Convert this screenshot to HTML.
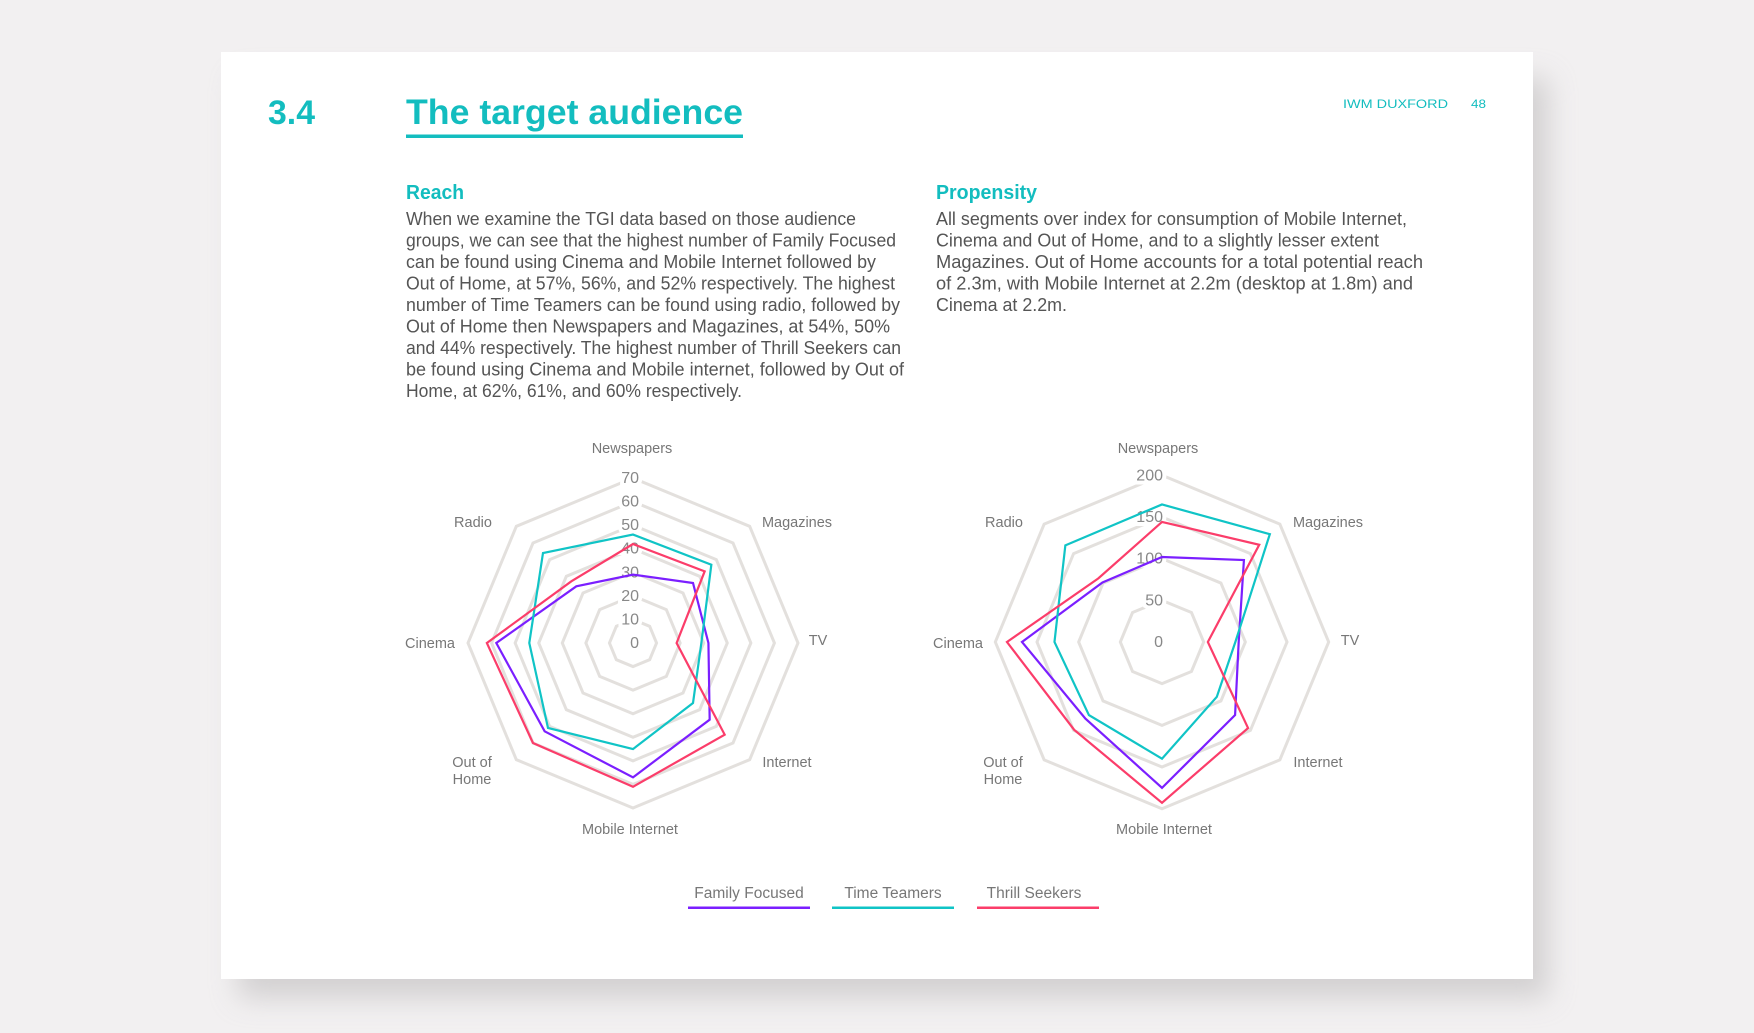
<!DOCTYPE html>
<html><head><meta charset="utf-8"><style>
html,body{margin:0;padding:0;background:#f2f0f1;}
svg{display:block;font-family:"Liberation Sans",sans-serif;}
</style></head><body>
<svg id="page" width="1754" height="1033" viewBox="0 0 1754 1033">
<defs>
<filter id="sh" x="-10%" y="-10%" width="125%" height="130%"><feGaussianBlur stdDeviation="14"/></filter>
</defs>
<rect x="238" y="78" width="1310" height="920" fill="#bdbbbc" opacity="0.6" filter="url(#sh)"/>
<rect x="221" y="52" width="1312" height="927" fill="#fff"/>
<text x="268" y="124" font-size="34" font-weight="bold" fill="#13bdbf" textLength="47" lengthAdjust="spacingAndGlyphs">3.4</text>
<text x="406" y="124" font-size="35" font-weight="bold" fill="#13bdbf" textLength="337" lengthAdjust="spacingAndGlyphs">The target audience</text>
<rect x="406" y="134.5" width="337" height="3.5" fill="#13bdbf"/>
<text x="1343" y="108" font-size="12" fill="#13bdbf" textLength="105" lengthAdjust="spacingAndGlyphs">IWM DUXFORD</text>
<text x="1471" y="108" font-size="12" fill="#13bdbf" textLength="15" lengthAdjust="spacingAndGlyphs">48</text>
<text x="406" y="199" font-size="20" font-weight="bold" fill="#13bdbf" textLength="58" lengthAdjust="spacingAndGlyphs">Reach</text>
<text x="936" y="199" font-size="20" font-weight="bold" fill="#13bdbf" textLength="101" lengthAdjust="spacingAndGlyphs">Propensity</text>
<g font-size="18.5" fill="#555">
<text x="406" y="225" textLength="450" lengthAdjust="spacingAndGlyphs">When we examine the TGI data based on those audience</text>
<text x="406" y="246.5" textLength="490" lengthAdjust="spacingAndGlyphs">groups, we can see that the highest number of Family Focused</text>
<text x="406" y="268" textLength="470" lengthAdjust="spacingAndGlyphs">can be found using Cinema and Mobile Internet followed by</text>
<text x="406" y="289.5" textLength="489" lengthAdjust="spacingAndGlyphs">Out of Home, at 57%, 56%, and 52% respectively. The highest</text>
<text x="406" y="311" textLength="494" lengthAdjust="spacingAndGlyphs">number of Time Teamers can be found using radio, followed by</text>
<text x="406" y="332.5" textLength="484" lengthAdjust="spacingAndGlyphs">Out of Home then Newspapers and Magazines, at 54%, 50%</text>
<text x="406" y="354" textLength="495" lengthAdjust="spacingAndGlyphs">and 44% respectively. The highest number of Thrill Seekers can</text>
<text x="406" y="375.5" textLength="498" lengthAdjust="spacingAndGlyphs">be found using Cinema and Mobile internet, followed by Out of</text>
<text x="406" y="397" textLength="336" lengthAdjust="spacingAndGlyphs">Home, at 62%, 61%, and 60% respectively.</text>
</g>
<g font-size="18.5" fill="#555">
<text x="936" y="225" textLength="471" lengthAdjust="spacingAndGlyphs">All segments over index for consumption of Mobile Internet,</text>
<text x="936" y="246.5" textLength="443" lengthAdjust="spacingAndGlyphs">Cinema and Out of Home, and to a slightly lesser extent</text>
<text x="936" y="268" textLength="487" lengthAdjust="spacingAndGlyphs">Magazines. Out of Home accounts for a total potential reach</text>
<text x="936" y="289.5" textLength="477" lengthAdjust="spacingAndGlyphs">of 2.3m, with Mobile Internet at 2.2m (desktop at 1.8m) and</text>
<text x="936" y="311" textLength="131" lengthAdjust="spacingAndGlyphs">Cinema at 2.2m.</text>
</g>
<g id="chart1"></g>
<g id="chart2"></g>
<g font-size="15.5" fill="#777" text-anchor="middle">
<g><text x="749" y="898">Family Focused</text><rect x="688" y="906.5" width="122" height="2.5" fill="#7b1fff"/></g>
<g><text x="893" y="898">Time Teamers</text><rect x="832" y="906.5" width="122" height="2.5" fill="#10c4c6"/></g>
<g><text x="1034" y="898">Thrill Seekers</text><rect x="977" y="906.5" width="122" height="2.5" fill="#fb3d6a"/></g>
</g>
</svg>
<script>
const categories = ["Newspapers","Magazines","TV","Internet","Mobile Internet","Out of Home","Cinema","Radio"];
const seriesNames = ["Family Focused","Time Teamers","Thrill Seekers"];
const reachFamily = [29,36,32,46,57,53,58,34];
const reachTime = [46,47,29,36,45,51,44,54];
const reachThrill = [42,43,18.5,55,61,60,62,37];
const reachTicks = [0,10,20,30,40,50,60,70];
const propFamily = [102,139,92,124,175,130,168,101];
const propTime = [165,183,88,93,140,124,129,164];
const propThrill = [144,165,55,146,193,149,186,108];
const propTicks = [0,50,100,150,200];
const colors = ["#7b1fff","#10c4c6","#fb3d6a"];
const NS = "http://www.w3.org/2000/svg";

function el(tag, attrs, parent){
  const e = document.createElementNS(NS, tag);
  for (const k in attrs) e.setAttribute(k, attrs[k]);
  parent.appendChild(e);
  return e;
}

function drawRadar(gid, cfg, ticks, series, labelPos){
  const g = document.getElementById(gid);
  const max = ticks[ticks.length-1];
  const rScale = v => v / max * cfg.R;
  const pt = (i, v) => {
    const a = -Math.PI/2 + i * Math.PI/4;
    return [cfg.cx + rScale(v)*Math.cos(a), cfg.cy + rScale(v)*Math.sin(a)];
  };
  ticks.forEach(t => {
    if (t === 0) return;
    const pts = categories.map((c,i) => pt(i,t).join(",")).join(" ");
    const ring = el("polygon", {points: pts, fill: "none", stroke: "#e3e0dd", "stroke-width": 3}, g);
    
    
  });
  ticks.forEach(t => {
    const tx = el("text", {x: cfg.cx + cfg.tickDx, y: cfg.cy - rScale(t) + 5, "text-anchor": "end", "font-size": 16, fill: "#888", stroke: "#fff", "stroke-width": 8, "paint-order": "stroke"}, g);
    tx.textContent = t;
    
    
  });
  categories.forEach((c, i) => {
    const p = labelPos[i];
    const lines = c === "Out of Home" ? ["Out of","Home"] : [c];
    lines.forEach((ln, j) => {
      const tx = el("text", {x: p[0], y: p[1] + 5 + j*17, "text-anchor": "middle", "font-size": 14.5, fill: "#777"}, g);
      tx.textContent = ln;
      
      
    });
  });
  series.forEach((vals, s) => {
    const pts = vals.map((v,i) => pt(i,v).join(",")).join(" ");
    const poly = el("polygon", {points: pts, fill: "none", stroke: colors[s], "stroke-width": 2.2, "stroke-linejoin": "miter"}, g);
    
    
  });
}

drawRadar("chart1", {cx: 633, cy: 643, R: 165, tickDx: 6}, reachTicks,
  [reachFamily, reachTime, reachThrill],
  [[632,448],[797,522],[818,640],[787,762],[630,829],[472,762],[430,643],[473,522]]);
drawRadar("chart2", {cx: 1162, cy: 642, R: 166.7, tickDx: 1}, propTicks,
  [propFamily, propTime, propThrill],
  [[1158,448],[1328,522],[1350,640],[1318,762],[1164,829],[1003,762],[958,643],[1004,522]]);
</script>
</body></html>
